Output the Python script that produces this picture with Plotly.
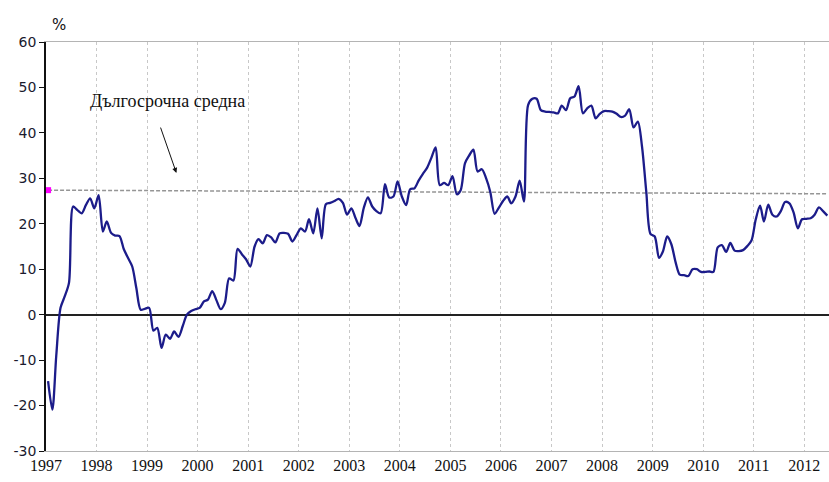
import plotly.graph_objects as go

# ---- data (monthly, Jan 1997 - Jun 2012) ----
years = list(range(1997, 2013))
values_by_year = {
    1997: [-14.6, -20.9, -9.1, 1.5, 4.0, 7.0, 23.8, 23.0, 22.3, 24.1, 25.6, 23.4],
    1998: [26.3, 18.3, 20.5, 18.0, 17.4, 17.3, 14.5, 12.5, 10.6, 5.8, 1.1, 1.3],
    1999: [1.5, -3.5, -2.9, -7.3, -4.4, -5.3, -3.7, -4.9, -2.5, 0.0, 0.8, 1.2],
    2000: [1.5, 2.9, 3.3, 5.2, 3.2, 1.2, 2.6, 8.0, 7.5, 14.5, 13.3, 12.2],
    2001: [10.6, 15.0, 16.6, 15.7, 17.5, 17.0, 15.9, 17.9, 18.0, 17.8, 16.1, 17.5],
    2002: [19.0, 18.3, 21.0, 17.9, 23.4, 16.8, 24.3, 24.6, 25.0, 25.5, 24.6, 22.0],
    2003: [23.4, 21.2, 19.5, 23.5, 25.8, 23.8, 22.8, 22.3, 28.7, 25.8, 26.0, 29.3],
    2004: [26.0, 24.1, 27.6, 27.8, 29.5, 31.0, 32.3, 34.5, 36.8, 28.5, 29.0, 28.5],
    2005: [30.5, 26.5, 27.4, 33.3, 35.0, 36.3, 31.5, 32.0, 30.0, 27.0, 22.2, 23.5],
    2006: [25.0, 26.0, 24.5, 26.0, 29.5, 24.9, 46.1, 47.5, 47.5, 45.0, 44.7, 44.6],
    2007: [44.5, 44.3, 46.0, 45.0, 47.6, 48.0, 50.3, 44.3, 45.4, 46.0, 43.2, 44.2],
    2008: [44.8, 44.8, 44.7, 44.2, 43.5, 43.8, 45.2, 41.2, 42.5, 37.0, 27.0, 17.8],
    2009: [17.2, 12.5, 13.9, 17.2, 15.5, 11.5, 8.8, 8.7, 8.5, 10.0, 10.0, 9.4],
    2010: [9.4, 9.5, 9.4, 14.8, 15.3, 13.8, 15.8, 14.1, 14.0, 14.2, 15.1, 16.3],
    2011: [21.0, 24.0, 20.5, 24.2, 22.0, 21.6, 22.8, 24.8, 24.5, 22.5, 19.0, 21.0],
    2012: [21.1, 21.2, 22.0, 23.6, 22.8, 21.8],
}
avg_label = "Дългосрочна средна"
avg_values = [27.4, 26.6]   # long-term average at start and end
year_labels = [str(y) for y in years]
y_ticks = [-30, -20, -10, 0, 10, 20, 30, 40, 50, 60]
y_tick_labels = [str(v) for v in y_ticks]

# ---- build series ----
dates, vals = [], []
for y in years:
    for m, v in enumerate(values_by_year[y], start=1):
        dates.append(f"{y}-{m:02d}-16")
        vals.append(v)

fig = go.Figure()

# long-term average (dashed)
fig.add_trace(go.Scatter(
    x=[dates[0], dates[-1]], y=avg_values, mode="lines",
    line=dict(color="#959595", width=1.5, dash="4px,2px"),
    hoverinfo="skip", showlegend=False))
fig.add_trace(go.Scatter(
    x=[dates[0]], y=[avg_values[0]], mode="markers",
    marker=dict(symbol="square", size=6, color="#ff00ff"),
    showlegend=False))

# main series
fig.add_trace(go.Scatter(
    x=dates, y=vals, mode="lines",
    line=dict(color="#1c1c8a", width=2.3, shape="spline", smoothing=0.8),
    showlegend=False))

fig.update_layout(
    width=829, height=482,
    margin=dict(l=46, r=0, t=42, b=31),
    paper_bgcolor="white", plot_bgcolor="white",
    showlegend=False,
    xaxis=dict(
        type="date", automargin=False,
        range=["1997-01-01", "2012-06-28"],
        tickvals=[f"{y}-01-01" for y in years],
        ticktext=year_labels,
        showgrid=True, gridcolor="#c8c8c8", griddash="dot", gridwidth=1,
        showline=True, linecolor="#b4b4b4", linewidth=1, mirror=True,
        ticks="", zeroline=False,
        tickfont=dict(family="Liberation Serif", size=16, color="#111111"),
    ),
    yaxis=dict(
        automargin=False,
        range=[-30, 60],
        tickvals=y_ticks, ticktext=y_tick_labels,
        showgrid=False,
        zeroline=True, zerolinecolor="#222222", zerolinewidth=1.5,
        showline=True, linecolor="#111111", linewidth=1.5,
        ticks="outside", ticklen=5, tickcolor="#111111", tickwidth=1,
        tickfont=dict(family="DejaVu Sans", size=14, color="#1a1a2e"),
    ),
    annotations=[
        dict(text="%", xref="paper", yref="paper", x=0.005, y=1.042,
             xanchor="left", yanchor="middle", showarrow=False,
             font=dict(family="DejaVu Sans", size=15, color="#111111")),
        dict(text=avg_label, xref="x", yref="y", x="1999-05-30", y=47.0,
             showarrow=False,
             font=dict(family="Liberation Serif", size=18, color="#111111")),
        dict(text="", xref="x", yref="y", x="1999-08-01", y=31.2,
             axref="x", ayref="y", ax="1999-04-05", ay=41.5,
             showarrow=True, arrowhead=2, arrowsize=1, arrowwidth=1,
             arrowcolor="#111111"),
    ],
)

fig.write_html(
    "out.html",
    config={"displayModeBar": False},
    post_script="document.body.style.margin='0';document.body.style.overflow='hidden';",
)
